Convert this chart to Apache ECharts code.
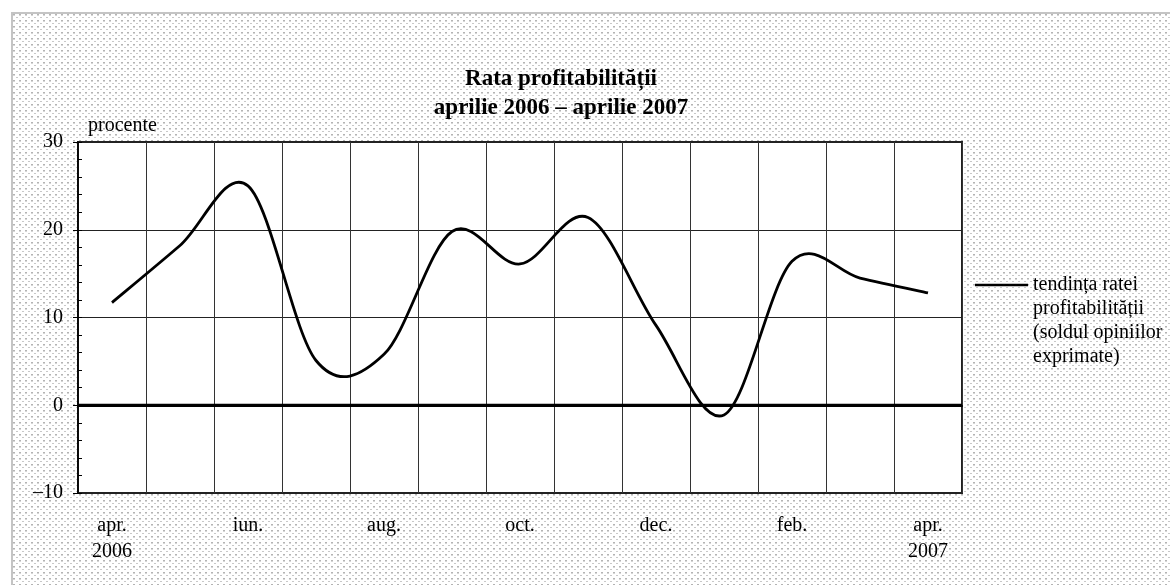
<!DOCTYPE html>
<html>
<head>
<meta charset="utf-8">
<title>Rata profitabilității</title>
<script src="https://cdn.jsdelivr.net/npm/echarts@6/dist/echarts.min.js"></script>
<style>
  html, body { margin: 0; padding: 0; background: #fff; overflow: hidden; }
  .frame {
    position: absolute; left: 11px; top: 12px; width: 1170px; height: 585px;
    border-left: 2px solid #c4c4c4; border-top: 2px solid #c4c4c4;
  }
  #main { position: absolute; left: 0; top: 0; width: 1170px; height: 585px; }
</style>
</head>
<body>
<div class="frame" id="frame"></div>
<div id="main"></div>
<script>
  // lunile, aprilie 2006 - aprilie 2007
  var months = ['apr. 2006', 'mai', 'iun.', 'iul.', 'aug.', 'sep.', 'oct.', 'nov.', 'dec.', 'ian.', 'feb.', 'mar.', 'apr. 2007'];
  var monthLabels = ['apr.\n2006', 'mai', 'iun.', 'iul.', 'aug.', 'sep.', 'oct.', 'nov.', 'dec.', 'ian.', 'feb.', 'mar.', 'apr.\n2007'];
  // tendinta ratei profitabilitatii (soldul opiniilor exprimate), procente
  var rata = [11.7, 18.2, 25.0, 5.1, 5.8, 19.8, 16.1, 21.4, 9.1, -1.1, 16.4, 14.5, 12.8];
  var yMin = -10, yMax = 30, yStep = 10, yMinorStep = 2;
  var seriesName = 'tendința ratei\nprofitabilității\n(soldul opiniilor\nexprimate)';

  var serif = 'Liberation Serif';

  // fundal punctat ca in original
  var tile = document.createElement('canvas');
  tile.width = 6; tile.height = 6;
  var tc = tile.getContext('2d');
  tc.fillStyle = '#fff'; tc.fillRect(0, 0, 6, 6);
  tc.fillStyle = '#b4b4b4'; tc.fillRect(0, 0, 2, 1);
  tc.fillStyle = '#d6d6d6'; tc.fillRect(0, 1, 2, 1);
  tc.fillStyle = '#c8c8c8'; tc.fillRect(3, 3, 2, 1);
  document.getElementById('frame').style.backgroundImage = 'url(' + tile.toDataURL() + ')';

  // curba netezita ca in Excel (Catmull-Rom), prin coordonatele axelor
  function renderCurve(params, api) {
    if (params.dataIndex !== 0) return null;
    var pts = rata.map(function (v, i) { return api.coord([i, v]); });
    var d = 'M' + pts[0][0] + ' ' + pts[0][1];
    for (var i = 0; i < pts.length - 1; i++) {
      var p0 = pts[i], p1 = pts[i + 1];
      var pp = pts[i - 1] || p0, pn = pts[i + 2] || p1;
      var c1x = p0[0] + (p1[0] - pp[0]) / 6, c1y = p0[1] + (p1[1] - pp[1]) / 6;
      var c2x = p1[0] - (pn[0] - p0[0]) / 6, c2y = p1[1] - (pn[1] - p0[1]) / 6;
      d += ' C' + c1x + ' ' + c1y + ' ' + c2x + ' ' + c2y + ' ' + p1[0] + ' ' + p1[1];
    }
    var z0 = api.coord([0, 0]);
    var cs = params.coordSys;
    return {
      type: 'group',
      children: [
        {
          // linia de zero, groasa
          type: 'line',
          shape: { x1: cs.x, y1: z0[1], x2: cs.x + cs.width, y2: z0[1] },
          style: { stroke: '#000', lineWidth: 3 }
        },
        {
          type: 'path',
          shape: { pathData: d },
          style: { stroke: '#000', fill: null, lineWidth: 2.8, lineJoin: 'round', lineCap: 'butt' }
        }
      ]
    };
  }

  var myChart = echarts.init(document.getElementById('main'));

  var option = {
    backgroundColor: 'transparent',
    animation: false,
    title: {
      text: 'Rata profitabilității\naprilie 2006 – aprilie 2007',
      left: 556,
      top: 60,
      textAlign: 'center',
      textStyle: {
        fontFamily: serif,
        fontWeight: 'bold',
        fontSize: 23,
        lineHeight: 29,
        color: '#000'
      }
    },
    legend: {
      left: 975,
      top: 201,
      padding: 0,
      icon: 'rect',
      itemWidth: 53,
      itemHeight: 2.5,
      data: [seriesName],
      // linii goale deasupra ca simbolul sa stea in dreptul primului rand
      formatter: function (name) { return '\n\n\n' + name; },
      textStyle: {
        fontFamily: serif,
        fontSize: 20,
        lineHeight: 24,
        color: '#000'
      }
    },
    grid: {
      left: 78,
      right: 208,
      top: 142,
      bottom: 92,
      show: true,
      backgroundColor: '#fff',
      borderColor: '#222',
      borderWidth: 2
    },
    xAxis: {
      type: 'category',
      data: months,
      boundaryGap: true,
      axisLine: { show: true, lineStyle: { color: '#000', width: 2 } },
      axisTick: { show: false },
      splitLine: { show: true, interval: 0, lineStyle: { color: '#333', width: 1 } },
      axisLabel: {
        interval: 1,
        margin: 20,
        fontFamily: serif,
        fontSize: 20,
        lineHeight: 26,
        color: '#000',
        verticalAlign: 'top',
        formatter: function (v, i) { return monthLabels[i]; }
      }
    },
    yAxis: [
      {
        type: 'value',
        min: yMin,
        max: yMax,
        interval: yStep,
        name: 'procente',
        nameLocation: 'end',
        nameGap: 6,
        nameTextStyle: {
          fontFamily: serif,
          fontSize: 20,
          color: '#000',
          align: 'left',
          verticalAlign: 'bottom',
          padding: [0, 0, 0, 10]
        },
        axisLine: { show: true, lineStyle: { color: '#000', width: 1.5 } },
        axisTick: { show: true, length: 5, lineStyle: { color: '#000' } },
        splitLine: { show: true, lineStyle: { color: '#222', width: 1 } },
        axisLabel: {
          margin: 15,
          fontFamily: serif,
          fontSize: 20,
          color: '#000',
          formatter: function (v) { return v < 0 ? '–' + (-v) : String(v); }
        }
      },
      {
        // gradatii mici, spre interior
        type: 'value',
        position: 'left',
        min: yMin,
        max: yMax,
        interval: yMinorStep,
        axisLine: { show: false },
        axisTick: { show: true, inside: true, length: 4, lineStyle: { color: '#000' } },
        axisLabel: { show: false },
        splitLine: { show: false }
      }
    ],
    series: [
      {
        name: seriesName,
        type: 'custom',
        data: rata.map(function (v, i) { return [i, v]; }),
        encode: { x: 0, y: 1 },
        itemStyle: { color: '#000' },
        renderItem: renderCurve
      }
    ]
  };

  myChart.setOption(option);
</script>
</body>
</html>
